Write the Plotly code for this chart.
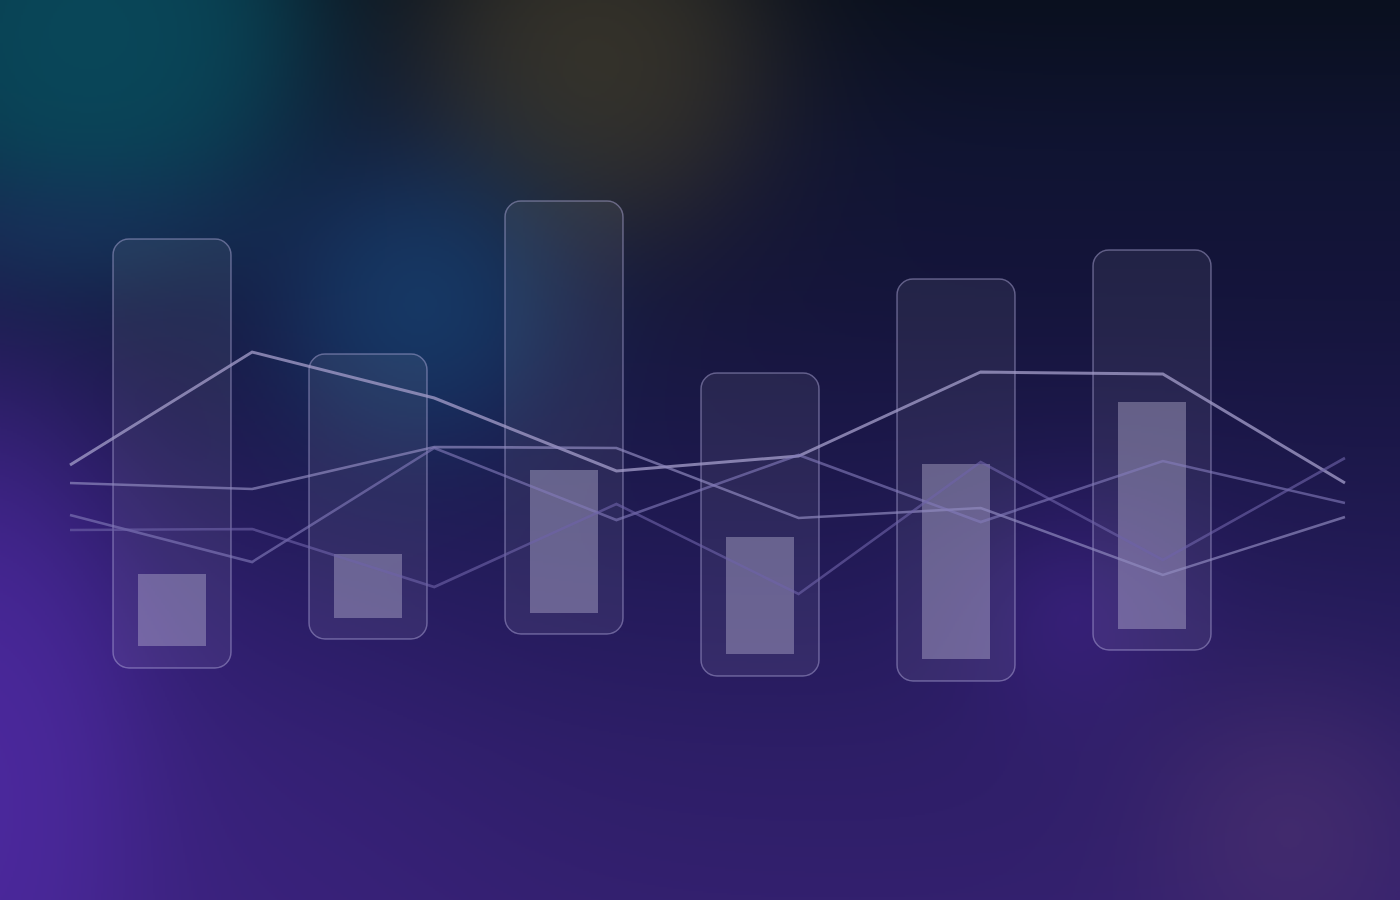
import base64
import struct
import zlib

import numpy as np
import plotly.graph_objects as go

# ---------------- data ----------------
bar_cats = [0, 1, 2, 3, 4, 5]
range_top = [66.1, 54.6, 69.9, 52.7, 62.1, 65.0]
range_bottom = [23.2, 26.1, 26.6, 22.4, 21.9, 25.0]
core_top = [32.6, 34.6, 43.0, 36.3, 43.6, 49.8]
core_bottom = [25.4, 28.2, 28.7, 24.6, 24.1, 27.1]

line_x = [0, 1, 2, 3, 4, 5, 6, 7]
series_a = [43.5, 54.8, 50.2, 42.9, 44.4, 52.8, 52.6, 41.7]
series_b = [41.7, 41.1, 45.3, 45.2, 38.2, 39.2, 32.5, 38.3]
series_c = [38.5, 33.8, 45.2, 38.0, 44.5, 37.8, 43.9, 39.7]
series_d = [37.0, 37.1, 31.3, 39.6, 30.6, 43.8, 34.0, 44.2]


# ---------------- background (blurred colour blobs) ----------------
def png_data_uri(arr):
    h, w, _ = arr.shape
    raw = b"".join(b"\x00" + arr[y].tobytes() for y in range(h))

    def chunk(t, d):
        c = struct.pack(">I", len(d)) + t + d
        return c + struct.pack(">I", zlib.crc32(t + d) & 0xFFFFFFFF)

    png = (b"\x89PNG\r\n\x1a\n"
           + chunk(b"IHDR", struct.pack(">IIBBBBB", w, h, 8, 2, 0, 0, 0))
           + chunk(b"IDAT", zlib.compress(raw, 9))
           + chunk(b"IEND", b""))
    return "data:image/png;base64," + base64.b64encode(png).decode()


W, H = 700, 450
S = 1400 / W
yy, xx = np.mgrid[0:H, 0:W].astype(float)
px = (xx + 0.5) * S
py = (yy + 0.5) * S

stops_y = np.array([0, 150, 300, 450, 600, 750, 900], float)
stops_c = np.array([
    [10, 16, 31],
    [16, 20, 50],
    [21, 21, 60],
    [28, 24, 74],
    [36, 27, 90],
    [45, 30, 102],
    [51, 32, 110],
], float)
img = np.zeros((H, W, 3))
for k in range(3):
    img[..., k] = np.interp(py, stops_y, stops_c[:, k])


def blob(cx, cy, r, w, color, a0, sx=1.0, sy=1.0):
    global img
    d = np.sqrt(((px - cx) / sx) ** 2 + ((py - cy) / sy) ** 2)
    a = a0 / (1.0 + np.exp((d - r) / w))
    img = img * (1 - a[..., None]) + np.array(color, float) * a[..., None]


blob(150, 850, 300, 90, (70, 38, 150), 0.35)
blob(-30, 770, 260, 75, (80, 42, 165), 0.85, 0.6, 1.3)
blob(90, 30, 215, 45, (9, 74, 92), 0.95, 1.0, 1.0)
blob(60, 230, 90, 50, (30, 48, 98), 0.55, 1.6, 0.5)
blob(595, 60, 160, 45, (58, 54, 42), 0.9)
blob(420, 305, 125, 45, (22, 64, 110), 0.85)
blob(1075, 615, 80, 45, (70, 36, 145), 0.6)
blob(1290, 830, 110, 50, (80, 52, 112), 0.6)

bg_uri = png_data_uri(np.clip(img, 0, 255).astype(np.uint8))

# ---------------- figure ----------------
fig = go.Figure()

outer_h = [t - b for t, b in zip(range_top, range_bottom)]
inner_h = [t - b for t, b in zip(core_top, core_bottom)]

fig.add_trace(go.Bar(
    x=bar_cats, y=outer_h, base=range_bottom, width=0.602,
    marker=dict(color="rgba(255,255,255,0.065)", cornerradius=16,
                line=dict(color="rgba(185,178,225,0.45)", width=1.5)),
    hoverinfo="skip", showlegend=False,
))
fig.add_trace(go.Bar(
    x=bar_cats, y=inner_h, base=core_bottom, width=0.347,
    marker=dict(color="rgba(190,184,215,0.40)", line=dict(width=0)),
    hoverinfo="skip", showlegend=False,
))

line_styles = [
    (series_a, "rgba(160,154,198,0.78)", 3),
    (series_b, "rgba(145,138,192,0.68)", 2.6),
    (series_c, "rgba(130,122,186,0.62)", 2.6),
    (series_d, "rgba(110,98,168,0.62)", 2.6),
]
for vals, col, wd in line_styles:
    fig.add_trace(go.Scatter(
        x=line_x, y=vals, xaxis="x2", mode="lines",
        line=dict(color=col, width=wd),
        hoverinfo="skip", showlegend=False,
    ))

fig.update_layout(
    width=1400, height=900,
    margin=dict(l=0, r=0, t=0, b=0),
    paper_bgcolor="#1a1848", plot_bgcolor="rgba(0,0,0,0)",
    barmode="overlay",
    xaxis=dict(range=[-172 / 196, -172 / 196 + 1400 / 196], visible=False, fixedrange=True),
    xaxis2=dict(range=[-70 / 182.14, -70 / 182.14 + 1400 / 182.14], overlaying="x",
                visible=False, fixedrange=True),
    yaxis=dict(range=[0, 90], visible=False, fixedrange=True),
    images=[dict(source=bg_uri, xref="paper", yref="paper", x=0, y=1,
                 sizex=1, sizey=1, sizing="stretch", xanchor="left", yanchor="top",
                 layer="below")],
)

fig.write_html(
    "out.html",
    config={"displayModeBar": False},
    post_script="document.body.style.margin='0';document.body.style.overflow='hidden';",
)
